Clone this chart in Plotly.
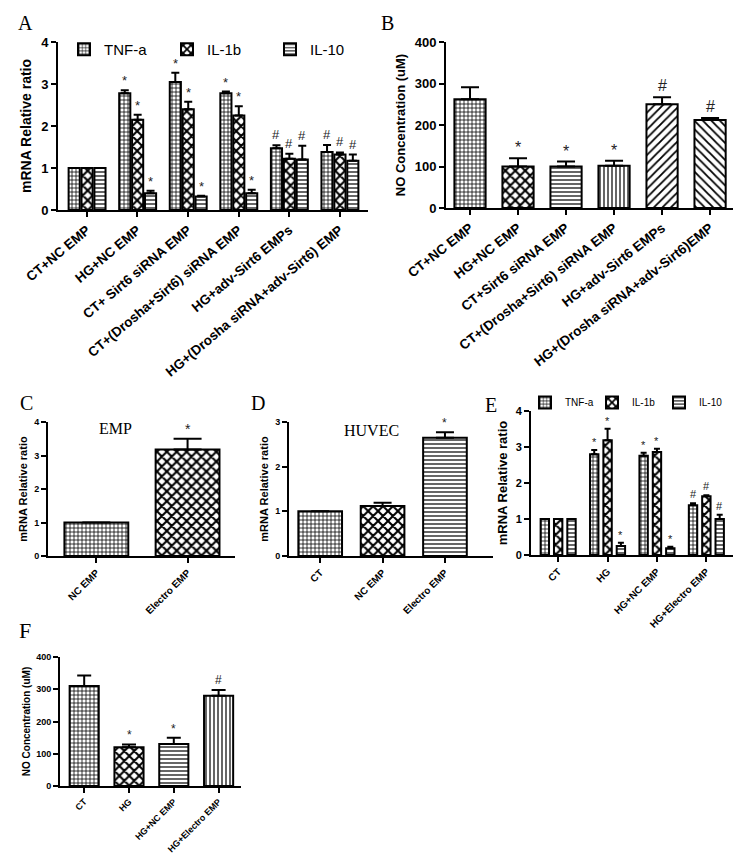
import plotly.graph_objects as go

W, H = 741, 854

# ---------------- data ----------------
# Panel A
a_cats = ["CT+NC EMP", "HG+NC EMP", "CT+ Sirt6 siRNA EMP", "CT+(Drosha+Sirt6) siRNA EMP",
          "HG+adv-Sirt6 EMPs", "HG+(Drosha siRNA+adv-Sirt6) EMP"]
a_series = ["TNF-a", "IL-1b", "IL-10"]
a_tnf = [1.0, 2.78, 3.05, 2.78, 1.47, 1.38]
a_tnf_err = [0, 0.07, 0.22, 0.04, 0.07, 0.17]
a_tnf_sig = ["", "*", "*", "*", "#", "#"]
a_il1b = [1.0, 2.15, 2.40, 2.25, 1.22, 1.32]
a_il1b_err = [0, 0.12, 0.18, 0.22, 0.12, 0.05]
a_il1b_sig = ["", "*", "*", "*", "#", "#"]
a_il10 = [1.0, 0.40, 0.32, 0.40, 1.20, 1.17]
a_il10_err = [0, 0.06, 0.02, 0.08, 0.33, 0.15]
a_il10_sig = ["", "*", "*", "*", "#", "#"]

# Panel B
b_cats = ["CT+NC EMP", "HG+NC EMP", "CT+Sirt6 siRNA EMP", "CT+(Drosha+Sirt6) siRNA EMP",
          "HG+adv-Sirt6 EMPs", "HG+(Drosha siRNA+adv-Sirt6)EMP"]
b_vals = [262, 100, 100, 102, 250, 212]
b_err = [29, 20, 12, 12, 17, 5]
b_sig = ["", "*", "*", "*", "#", "#"]

# Panel C
c_cats = ["NC EMP", "Electro EMP"]
c_vals = [1.0, 3.18]
c_err = [0, 0.32]
c_sig = ["", "*"]

# Panel D
d_cats = ["CT", "NC EMP", "Electro EMP"]
d_vals = [1.0, 1.12, 2.65]
d_err = [0, 0.07, 0.12]
d_sig = ["", "", "*"]

# Panel E
e_cats = ["CT", "HG", "HG+NC EMP", "HG+Electro EMP"]
e_tnf = [1.0, 2.80, 2.76, 1.38]
e_tnf_err = [0, 0.12, 0.08, 0.06]
e_tnf_sig = ["", "*", "*", "#"]
e_il1b = [1.0, 3.19, 2.86, 1.63]
e_il1b_err = [0, 0.32, 0.09, 0.03]
e_il1b_sig = ["", "*", "*", "#"]
e_il10 = [1.0, 0.25, 0.19, 1.0]
e_il10_err = [0, 0.09, 0.04, 0.12]
e_il10_sig = ["", "*", "*", "#"]

# Panel F
f_cats = ["CT", "HG", "HG+NC EMP", "HG+Electro EMP"]
f_vals = [310, 120, 130, 280]
f_err = [33, 9, 20, 18]
f_sig = ["", "*", "*", "#"]

# ---------------- styles ----------------
FONT = "Liberation Sans, Arial, sans-serif"
SERIF = "Liberation Serif, Times New Roman, serif"

PAT_GRID = dict(shape="+", size=4, solidity=0.35)
PAT_CHECK = dict(shape="x", size=7, solidity=0.5)
PAT_HLINE = dict(shape="-", size=4, solidity=0.3)
PAT_VLINE = dict(shape="|", size=4, solidity=0.3)
PAT_SL = dict(shape="/", size=6, solidity=0.3)
PAT_BSL = dict(shape="\\", size=6, solidity=0.3)


def pat(p):
    d = dict(p)
    d.update(fgcolor="black", bgcolor="white", fillmode="replace")
    return d


def pat_list(plist):
    return dict(shape=[p["shape"] for p in plist], size=[p["size"] for p in plist],
                solidity=[p["solidity"] for p in plist], fgcolor="black", bgcolor="white",
                fillmode="replace")


fig = go.Figure()
annotations = []


def add_bars(ax, vals, errs, sigs, width, offset, pattern, name=None, legend=None,
             capw=4, sigsize=12, lw=2):
    n = len(vals)
    x = list(range(n))
    sfx = "" if ax == 1 else str(ax)
    fig.add_trace(go.Bar(
        x=x, y=vals, width=width, offset=offset,
        xaxis="x" + sfx, yaxis="y" + sfx,
        marker=dict(color="white", line=dict(color="black", width=lw), pattern=pattern),
        error_y=dict(type="data", symmetric=False, array=errs, arrayminus=[0] * n,
                     color="black", thickness=2, width=capw),
        name=name, showlegend=name is not None, legend=legend,
    ))
    for i in range(n):
        if sigs[i]:
            annotations.append(dict(
                x=i + offset + width / 2, y=vals[i] + errs[i],
                xref="x" + sfx, yref="y" + sfx,
                text=sigs[i], showarrow=False, yanchor="bottom", yshift=0 if sigs[i] == "*" else 1,
                font=dict(family=FONT, size=sigsize, color="#222")))


# A
wA, stA = 0.22, 0.255
add_bars(1, a_tnf, a_tnf_err, a_tnf_sig, wA, -0.36, pat(PAT_GRID), a_series[0], "legend", capw=4, sigsize=13)
add_bars(1, a_il1b, a_il1b_err, a_il1b_sig, wA, -0.36 + stA, pat(PAT_CHECK), a_series[1], "legend", capw=4, sigsize=13)
add_bars(1, a_il10, a_il10_err, a_il10_sig, wA, -0.36 + 2 * stA, pat(PAT_HLINE), a_series[2], "legend", capw=4, sigsize=13)

# B
add_bars(2, b_vals, b_err, b_sig, 0.65, -0.325,
         pat_list([PAT_GRID, PAT_CHECK, PAT_HLINE, PAT_VLINE, PAT_SL, PAT_BSL]), capw=9, sigsize=16)

# C
add_bars(3, c_vals, c_err, c_sig, 0.7, -0.35, pat_list([PAT_GRID, PAT_CHECK]), capw=14, sigsize=14)

# D
add_bars(4, d_vals, d_err, d_sig, 0.7, -0.35, pat_list([PAT_GRID, PAT_CHECK, PAT_HLINE]), capw=9, sigsize=12)

# E
wE, stE = 0.17, 0.27
add_bars(5, e_tnf, e_tnf_err, e_tnf_sig, wE, -0.355, pat(PAT_GRID), a_series[0], "legend2", capw=3, sigsize=11)
add_bars(5, e_il1b, e_il1b_err, e_il1b_sig, wE, -0.355 + stE, pat(PAT_CHECK), a_series[1], "legend2", capw=3, sigsize=11)
add_bars(5, e_il10, e_il10_err, e_il10_sig, wE, -0.355 + 2 * stE, pat(PAT_HLINE), a_series[2], "legend2", capw=3, sigsize=11)

# F
add_bars(6, f_vals, f_err, f_sig, 0.65, -0.325, pat_list([PAT_GRID, PAT_CHECK, PAT_HLINE, PAT_VLINE]),
         capw=7, sigsize=12)


def xd(a, b):
    return [a / W, b / W]


def yd(top, bot):
    return [1 - bot / H, 1 - top / H]


def xaxis(dom, rng, cats, size, anchor, angle=-45):
    return dict(domain=xd(*dom), range=rng, tickvals=list(range(len(cats))), ticktext=cats,
                tickangle=angle, showline=True, linecolor="black", linewidth=2, ticks="outside",
                ticklen=5, tickwidth=2, tickcolor="black", showgrid=False, zeroline=False,
                anchor=anchor, automargin=False,
                tickfont=dict(family=FONT, size=size, color="black", weight="bold"),
                fixedrange=True)


def yaxis(dom, rng, dtick, title, tsize, titsize, anchor, standoff):
    return dict(domain=yd(*dom), range=rng, dtick=dtick, showline=True, linecolor="black", linewidth=2,
                ticks="outside", ticklen=5, tickwidth=2, tickcolor="black", showgrid=False,
                zeroline=False, anchor=anchor, automargin=False,
                tickfont=dict(family=FONT, size=tsize, color="black", weight="bold"),
                title=dict(text=title, standoff=standoff,
                           font=dict(family=FONT, size=titsize, color="black", weight="bold")))


layout = dict(
    width=W, height=H, margin=dict(l=0, r=0, t=0, b=0, autoexpand=False),
    paper_bgcolor="white", plot_bgcolor="white", barmode="overlay", showlegend=True,
    xaxis=xaxis((50, 360), [-0.57, 5.56], a_cats, 13.5, "y", -40),
    yaxis=yaxis((34, 202), [0, 4], 1, "mRNA Relative ratio", 13, 14, "x", 6),
    xaxis2=xaxis((438, 728), [-0.5, 5.54], b_cats, 13.5, "y2", -38),
    yaxis2=yaxis((34, 200), [0, 400], 100, "NO Concentration (uM)", 13, 13, "x2", 6),
    xaxis3=xaxis((40, 227), [-0.53, 1.52], c_cats, 10, "y3"),
    yaxis3=yaxis((414, 548), [0, 4], 1, "mRNA Relative ratio", 9, 11, "x3", 4),
    xaxis4=xaxis((281, 485), [-0.5, 2.77], d_cats, 10, "y4"),
    yaxis4=yaxis((414, 548), [0, 3], 1, "mRNA Relative ratio", 9, 11, "x4", 4),
    xaxis5=xaxis((523, 728), [-0.55, 3.6], e_cats, 10, "y5"),
    yaxis5=yaxis((403, 547), [0, 4], 1, "mRNA Relative ratio", 11, 13, "x5", 5),
    xaxis6=xaxis((52, 233), [-0.54, 3.5], f_cats, 9, "y6"),
    yaxis6=yaxis((649, 778), [0, 400], 100, "NO Concentration (uM)", 9, 10, "x6", 4),
    legend=dict(orientation="h", x=56 / W, y=1 - 25 / H, xanchor="left", yanchor="top",
                font=dict(family=FONT, size=15, color="black"), entrywidth=58,
                entrywidthmode="pixels", bgcolor="rgba(0,0,0,0)", itemclick=False),
    legend2=dict(orientation="h", x=517 / W, y=1 - 380 / H, xanchor="left", yanchor="top",
                 font=dict(family=FONT, size=10, color="black"), entrywidth=22,
                 entrywidthmode="pixels", bgcolor="rgba(0,0,0,0)", itemclick=False),
)

# panel letters and titles
for txt, x, y, s in [("A", 17, 15, 20), ("B", 379, 15, 20), ("C", 18, 395, 20), ("D", 250, 395, 20),
                     ("E", 483, 397, 20), ("F", 17, 622, 22)]:
    annotations.append(dict(x=x / W, y=1 - y / H, xref="paper", yref="paper", text=txt, showarrow=False,
                            xanchor="center", yanchor="middle",
                            font=dict(family=SERIF, size=s, color="black")))
annotations.append(dict(x=107 / W, y=1 - 420 / H, xref="paper", yref="paper", text="EMP", showarrow=False,
                        xanchor="center", yanchor="middle", font=dict(family=SERIF, size=16, color="black")))
annotations.append(dict(x=363 / W, y=1 - 422 / H, xref="paper", yref="paper", text="HUVEC", showarrow=False,
                        xanchor="center", yanchor="middle", font=dict(family=SERIF, size=16, color="black")))

layout["annotations"] = annotations
fig.update_layout(**layout)
fig.write_html("out.html")
